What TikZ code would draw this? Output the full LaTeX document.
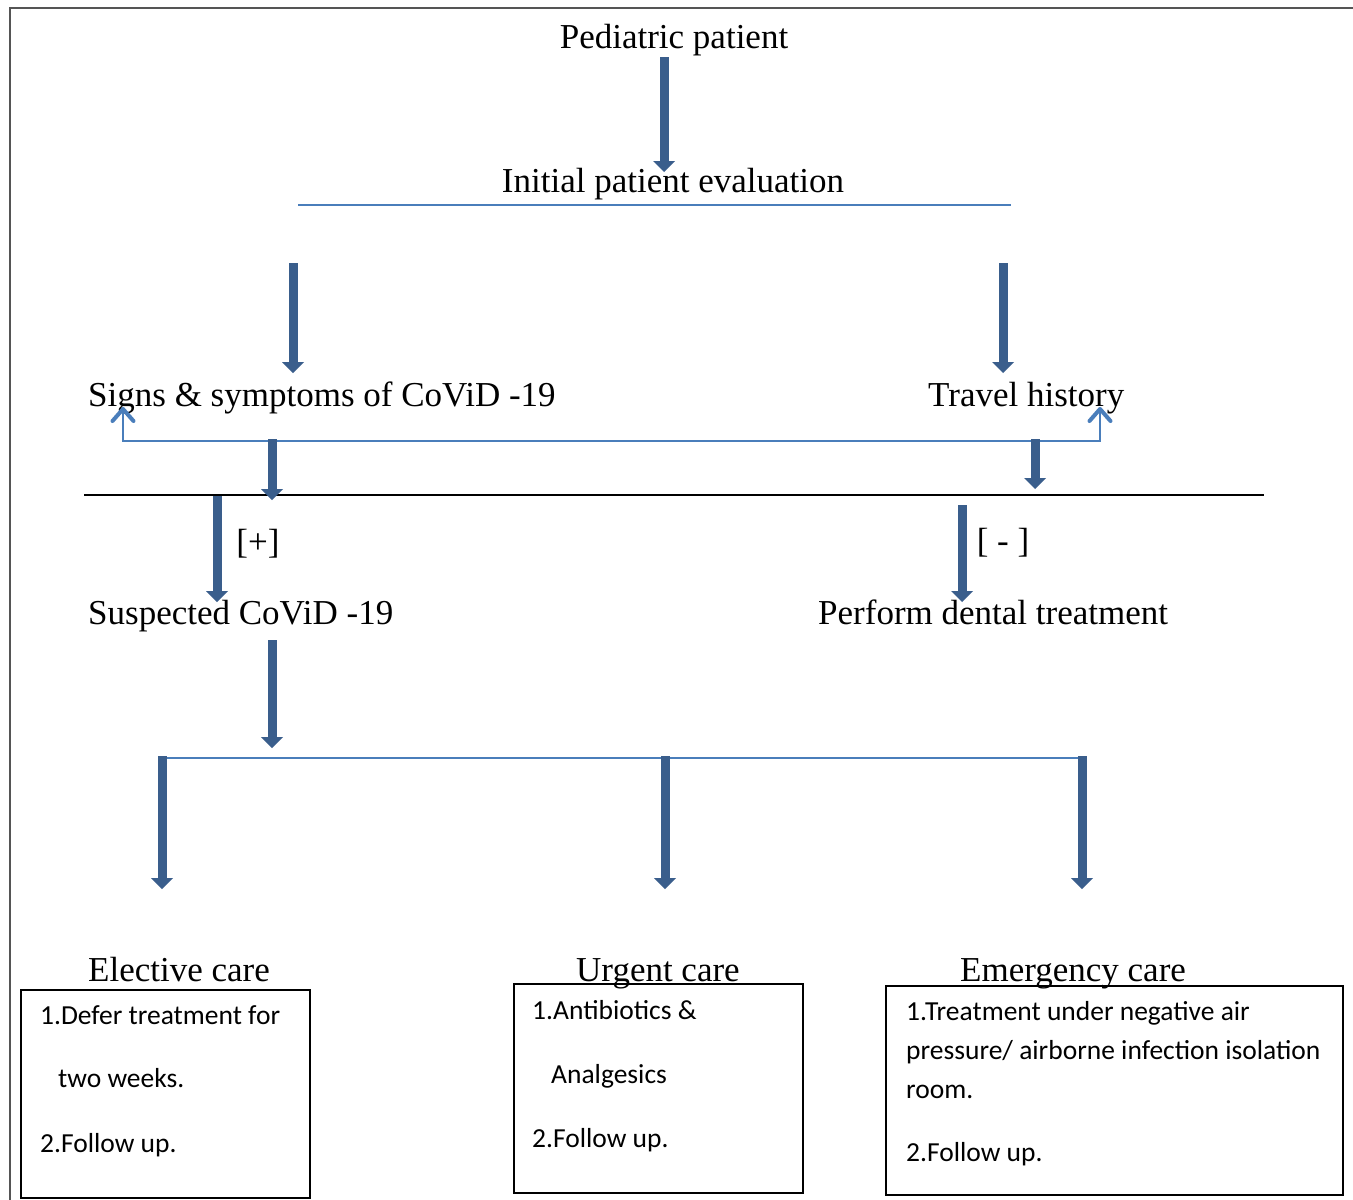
\documentclass[tikz,border=0pt]{standalone}
\usepackage{fontspec}
\setmainfont{Liberation Serif}
\newfontfamily\boxfont{Carlito}
\usetikzlibrary{arrows.meta}
\definecolor{arrowblue}{RGB}{58,94,140}
\definecolor{lineblue}{RGB}{74,126,187}
\definecolor{framegray}{RGB}{85,85,85}
\begin{document}
\begin{tikzpicture}[x=1pt,y=-1pt,
  head/.style={font=\fontsize{35}{41}\selectfont, inner sep=0pt},
  boxtext/.style={font=\boxfont\fontsize{27.5}{32}\selectfont, inner sep=0pt, anchor=base west},
  bigarrow/.style={draw=arrowblue, line width=9pt, -{Triangle[width=22pt,length=11pt,line width=0pt]}},
  bluerule/.style={draw=lineblue, line width=2pt},
  blackrule/.style={draw=black, line width=2pt},
  barbtip/.tip={Straight Barb[width=21pt,length=12pt,line width=4pt 0 0,round]},
  bluelink/.style={draw=lineblue, line width=2.6pt, line join=miter, barbtip-barbtip},
  carebox/.style={draw=black, line width=1.8pt, inner sep=0pt, anchor=north west},
  frameline/.style={draw=framegray, line width=2.5pt}]
\useasboundingbox (0,0) rectangle (1353,1200);
\fill[white] (0,0) rectangle (1353,1200);

% outer frame (top and left edges visible)
\coordinate (frTL) at (10,8);
\coordinate (frTR) at (1353,8);
\coordinate (frBL) at (10,1200);
\draw[frameline] (frTR) -- (frTL) -- (frBL);

% headings
\node[head, anchor=base] (pp) at (674,48) {Pediatric patient};
\node[head, anchor=base] (ipe) at (673,192) {Initial patient evaluation};
\node[head, anchor=base west] (sg) at (88,406) {Signs \& symptoms of CoViD -19};
\node[head, anchor=base west] (tr) at (928,406) {Travel history};
\node[head, anchor=base west] (sc) at (88,624) {Suspected CoViD -19};
\node[head, anchor=base west] (pdt) at (818,624) {Perform dental treatment};
\node[head, anchor=center] (plus) at (258,544) {[+]};
\node[head, anchor=center] (minus) at (1003,543) {[ - ]};
\node[head, anchor=base west] (el) at (88,981) {Elective care};
\node[head, anchor=base west] (ur) at (576,981) {Urgent care};
\node[head, anchor=base west] (em) at (960,981) {Emergency care};

% rules
\coordinate (ruleAL) at (298,205);
\coordinate (ruleAR) at (1011,205);
\draw[bluerule] (ruleAL) -- (ruleAR);
\coordinate (ruleBL) at (84,495);
\coordinate (ruleBR) at (1264,495);
\draw[blackrule] (ruleBL) -- (ruleBR);
\coordinate (ruleCL) at (158,758);
\coordinate (ruleCR) at (1086,758);
\draw[bluerule] (ruleCL) -- (ruleCR);

% thin blue link between the two findings
\coordinate (lkA) at (123,407);
\coordinate (lkB) at (123,441);
\coordinate (lkC) at (1100,441);
\coordinate (lkD) at (1100,407);
\draw[bluelink] (lkA) -- (lkB) -- (lkC) -- (lkD);

% big arrows
\coordinate (a1s) at (664,57);   \coordinate (a1e) at (664,172);
\coordinate (a2s) at (293,263);  \coordinate (a2e) at (293,373);
\coordinate (a3s) at (1003,263); \coordinate (a3e) at (1003,373);
\coordinate (a4s) at (272,439);  \coordinate (a4e) at (272,500);
\coordinate (a5s) at (1035,439); \coordinate (a5e) at (1035,489);
\coordinate (a6s) at (217,496);  \coordinate (a6e) at (217,602);
\coordinate (a7s) at (962,505);  \coordinate (a7e) at (962,602);
\coordinate (a8s) at (272,640);  \coordinate (a8e) at (272,748);
\coordinate (a9s) at (162,756);  \coordinate (a9e) at (162,889);
\coordinate (a10s) at (665,756); \coordinate (a10e) at (665,889);
\coordinate (a11s) at (1082,756);\coordinate (a11e) at (1082,889);
\foreach \i in {1,...,11} {\draw[bigarrow] (a\i s) -- (a\i e);}

% care boxes
\node[carebox, minimum width=289pt, minimum height=208pt] (elbox) at (20,989) {};
\node[carebox, minimum width=289pt, minimum height=209pt] (urbox) at (513,983) {};
\node[carebox, minimum width=457pt, minimum height=209pt] (embox) at (885,985) {};

\node[boxtext] (el1) at (40,1024) {1.Defer treatment for};
\node[boxtext] (el2) at (58,1087) {two weeks.};
\node[boxtext] (el3) at (40,1152) {2.Follow up.};

\node[boxtext] (ur1) at (532,1019) {1.Antibiotics \&};
\node[boxtext] (ur2) at (551,1083) {Analgesics};
\node[boxtext] (ur3) at (532,1147) {2.Follow up.};

\node[boxtext] (em1) at (906,1020) {1.Treatment under negative air};
\node[boxtext] (em2) at (906,1059) {pressure/ airborne infection isolation};
\node[boxtext] (em3) at (906,1098) {room.};
\node[boxtext] (em4) at (906,1161) {2.Follow up.};
\end{tikzpicture}
\end{document}
